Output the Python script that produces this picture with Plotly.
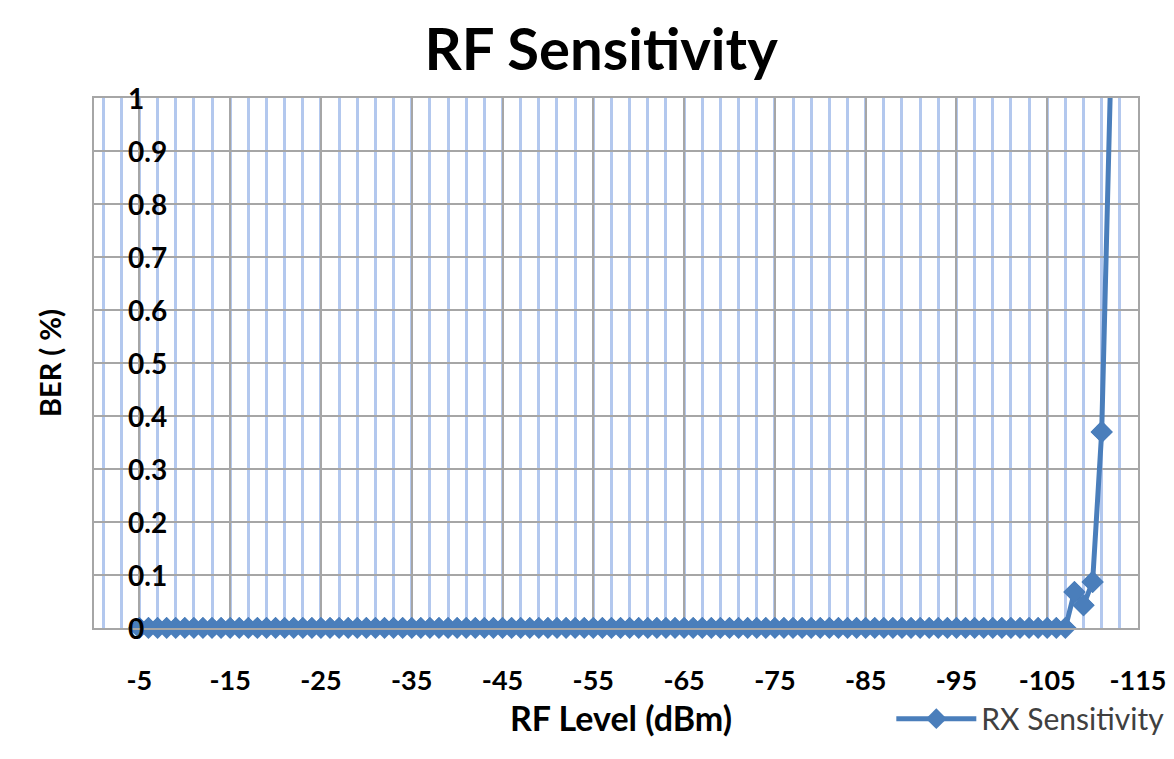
import plotly.graph_objects as go

# RF input level (dBm), one measurement per dBm
rf_level = [
    -5, -6, -7, -8, -9, -10, -11, -12, -13, -14, -15, -16, -17, -18, -19, -20,
    -21, -22, -23, -24, -25, -26, -27, -28, -29, -30, -31, -32, -33, -34, -35,
    -36, -37, -38, -39, -40, -41, -42, -43, -44, -45, -46, -47, -48, -49, -50,
    -51, -52, -53, -54, -55, -56, -57, -58, -59, -60, -61, -62, -63, -64, -65,
    -66, -67, -68, -69, -70, -71, -72, -73, -74, -75, -76, -77, -78, -79, -80,
    -81, -82, -83, -84, -85, -86, -87, -88, -89, -90, -91, -92, -93, -94, -95,
    -96, -97, -98, -99, -100, -101, -102, -103, -104, -105, -106, -107, -108,
    -109, -110, -111, -112,
]

# Bit error rate (%) measured at each level
ber = [
    0, 0, 0, 0, 0, 0, 0, 0, 0, 0, 0, 0, 0, 0, 0, 0,
    0, 0, 0, 0, 0, 0, 0, 0, 0, 0, 0, 0, 0, 0, 0,
    0, 0, 0, 0, 0, 0, 0, 0, 0, 0, 0, 0, 0, 0, 0,
    0, 0, 0, 0, 0, 0, 0, 0, 0, 0, 0, 0, 0, 0, 0,
    0, 0, 0, 0, 0, 0, 0, 0, 0, 0, 0, 0, 0, 0, 0,
    0, 0, 0, 0, 0, 0, 0, 0, 0, 0, 0, 0, 0, 0, 0,
    0, 0, 0, 0, 0, 0, 0, 0, 0, 0, 0, 0, 0.068,
    0.043, 0.087, 0.37, 1.05,
]

x_tick_vals = [-5, -15, -25, -35, -45, -55, -65, -75, -85, -95, -105, -115]
x_tick_text = ["-5", "-15", "-25", "-35", "-45", "-55", "-65", "-75", "-85", "-95", "-105", "-115"]
y_tick_vals = [0, 0.1, 0.2, 0.3, 0.4, 0.5, 0.6, 0.7, 0.8, 0.9, 1]
y_tick_text = ["0", "0.1", "0.2", "0.3", "0.4", "0.5", "0.6", "0.7", "0.8", "0.9", "1"]

SERIES_COLOR = "#4a7ebb"
GRID_GRAY = "#a6a6a6"
MINOR_BLUE = "#b3c8ee"
FONT = "Lato"

fig = go.Figure()

# Full line (clipped to the plot area, so the last rise leaves through the top)
fig.add_trace(go.Scatter(
    x=rf_level, y=ber, mode="lines+markers", name="RX Sensitivity",
    line=dict(color=SERIES_COLOR, width=5),
    marker=dict(symbol="diamond", size=17, color=SERIES_COLOR),
    cliponaxis=True,
))

# Markers inside the value range, drawn unclipped so the zero row sits on the axis
in_x = [x for x, y in zip(rf_level, ber) if y <= 1]
in_y = [y for y in ber if y <= 1]
fig.add_trace(go.Scatter(
    x=in_x, y=in_y, mode="markers", showlegend=False, hoverinfo="skip",
    marker=dict(symbol="diamond", size=17, color=SERIES_COLOR),
    cliponaxis=False,
))

# Value labels sit just inside the left frame, left-aligned
for v, t in zip(y_tick_vals, y_tick_text):
    fig.add_annotation(
        x=0.0305, xref="paper", y=v, yref="y", text=t, showarrow=False,
        xanchor="left", yanchor="middle",
        font=dict(size=28, family=FONT, weight="bold", color="black"),
    )

# Horizontal axis title
fig.add_annotation(
    x=0.505, xref="paper", y=-0.168, yref="paper", text="<b>RF Level (dBm)</b>",
    showarrow=False, xanchor="center", yanchor="middle",
    font=dict(size=34, family=FONT, color="black"),
)

fig.update_layout(
    width=1174, height=759,
    margin=dict(l=94, r=36, t=98, b=131, autoexpand=False),
    paper_bgcolor="white", plot_bgcolor="white",
    font=dict(family=FONT, color="black"),
    title=dict(
        text="<b>RF Sensitivity</b>", x=0.512, xanchor="center",
        y=0.935, yanchor="middle", font=dict(size=58, family=FONT, color="black"),
    ),
    xaxis=dict(
        range=[0, -115], tickmode="array", tickvals=x_tick_vals, ticktext=x_tick_text,
        tickfont=dict(size=27, family=FONT, weight="bold", color="black"),
        showgrid=True, gridcolor=GRID_GRAY, gridwidth=2,
        minor=dict(showgrid=True, tick0=-1, dtick=2, gridcolor=MINOR_BLUE, gridwidth=3),
        showline=True, linecolor=GRID_GRAY, linewidth=2, mirror=True,
        zeroline=False, ticks="", ticklabelstandoff=28,
    ),
    yaxis=dict(
        range=[0, 1], tickmode="array", tickvals=y_tick_vals, showticklabels=False,
        showgrid=True, gridcolor=GRID_GRAY, gridwidth=2,
        showline=True, linecolor=GRID_GRAY, linewidth=2, mirror=True,
        zeroline=False, ticks="",
        title=dict(text="<b>BER ( %)</b>", font=dict(size=29, family=FONT), standoff=22),
    ),
    legend=dict(
        x=1.03, xanchor="right", y=-0.122, yanchor="top",
        font=dict(size=30, family=FONT, color="#404040"),
        itemwidth=80, bgcolor="rgba(0,0,0,0)",
    ),
)

fig.write_html("out.html")
